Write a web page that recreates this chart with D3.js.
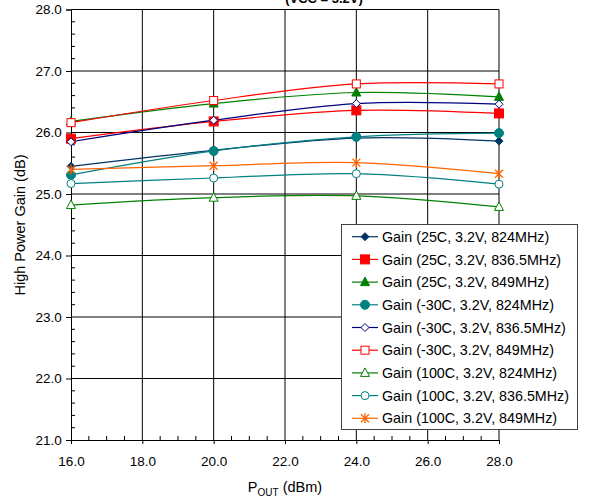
<!DOCTYPE html>
<html lang="en">
<head>
<meta charset="UTF-8">
<title>High Power Gain</title>
<style>
  body { margin: 0; background: #fff; }
  svg { font-family: "Liberation Sans", Arial, sans-serif; }
  .linea { fill: none; stroke-width: 1.2px; }
</style>
<script src="https://d3js.org/d3.v7.min.js"></script>
</head>
<body>
<script>
// Datos: potencia de salida (dBm) y ganancia de cada serie
var pout = [16, 20, 24, 28];
var xTicks = [16, 18, 20, 22, 24, 26, 28];
var yTicks = [21, 22, 23, 24, 25, 26, 27, 28];

var nombres = [
  "Gain (25C, 3.2V, 824MHz)",
  "Gain (25C, 3.2V, 836.5MHz)",
  "Gain (25C, 3.2V, 849MHz)",
  "Gain (-30C, 3.2V, 824MHz)",
  "Gain (-30C, 3.2V, 836.5MHz)",
  "Gain (-30C, 3.2V, 849MHz)",
  "Gain (100C, 3.2V, 824MHz)",
  "Gain (100C, 3.2V, 836.5MHz)",
  "Gain (100C, 3.2V, 849MHz)"
];
var g25_824   = [25.45, 25.71, 25.91, 25.86];
var g25_836   = [25.90, 26.18, 26.36, 26.31];
var g25_849   = [26.18, 26.47, 26.65, 26.58];
var gm30_824  = [25.31, 25.70, 25.93, 25.99];
var gm30_836  = [25.85, 26.20, 26.47, 26.46];
var gm30_849  = [26.16, 26.52, 26.79, 26.79];
var g100_824  = [24.82, 24.94, 24.97, 24.79];
var g100_836  = [25.17, 25.26, 25.33, 25.16];
var g100_849  = [25.40, 25.46, 25.51, 25.33];

var valores = [g25_824, g25_836, g25_849, gm30_824, gm30_836, gm30_849, g100_824, g100_836, g100_849];
var colores = ["#003366", "#ff0000", "#008000", "#008080", "#000080", "#ff0000", "#008000", "#008080", "#ff6600"];
var marcas  = ["diamante", "cuadrado", "triangulo", "circulo", "diamante", "cuadrado", "triangulo", "circulo", "asterisco"];
var relleno = [true, true, true, true, false, false, false, false, false];

var ancho = 613, alto = 499;
var izq = 71, dch = 499, sup = 9.5, inf = 440;

var svg = d3.select("body").append("svg")
  .attr("width", ancho).attr("height", alto);

var x = d3.scaleLinear().domain([16, 28]).range([izq, dch]);
var y = d3.scaleLinear().domain([21, 28]).range([inf, sup]);

// Titulo (cortado arriba, como en el original)
svg.append("text")
  .attr("x", 324).attr("y", 3)
  .attr("text-anchor", "middle")
  .style("font-size", "13px").style("font-weight", "bold")
  .text("(VCC = 3.2V)");

// Rejilla
svg.append("g").selectAll("line").data(yTicks.slice(1)).join("line")
  .attr("x1", izq).attr("x2", dch)
  .attr("y1", d => y(d)).attr("y2", d => y(d))
  .attr("stroke", "#000").attr("stroke-width", 1);
svg.append("g").selectAll("line").data(xTicks.slice(1)).join("line")
  .attr("y1", sup).attr("y2", inf)
  .attr("x1", d => x(d)).attr("x2", d => x(d))
  .attr("stroke", "#000").attr("stroke-width", 1);

// Ejes
var ejeX = svg.append("g").attr("transform", "translate(0," + inf + ")")
  .call(d3.axisBottom(x).tickValues(xTicks).tickSize(4).tickFormat(d3.format(".1f")));
var ejeY = svg.append("g").attr("transform", "translate(" + izq + ",0)")
  .call(d3.axisLeft(y).tickValues(yTicks).tickSize(5).tickFormat(d3.format(".1f")));
[ejeX, ejeY].forEach(function (e) {
  e.select(".domain").attr("stroke", "#000");
  e.selectAll("text").style("font-size", "13.5px").attr("fill", "#000")
    .style("font-family", "'Liberation Sans', Arial, sans-serif");
});
ejeX.selectAll("text").attr("y", 16);
ejeY.selectAll("text").attr("dx", "-0.1em");

// Marcas menores (hacia dentro)
var menX = d3.range(16, 28.01, 0.5).filter(v => Math.abs(v % 2) > 0.01);
var menY = d3.range(21, 28.01, 0.2).filter(v => Math.abs(v - Math.round(v)) > 0.01);
svg.append("g").selectAll("line").data(menX).join("line")
  .attr("x1", d => x(d)).attr("x2", d => x(d))
  .attr("y1", inf).attr("y2", inf - 4).attr("stroke", "#000");
svg.append("g").selectAll("line").data(menY).join("line")
  .attr("y1", d => y(d)).attr("y2", d => y(d))
  .attr("x1", izq).attr("x2", izq + 4).attr("stroke", "#000");

// Titulos de ejes
var tx = svg.append("text").attr("x", 285).attr("y", 492)
  .attr("text-anchor", "middle").style("font-size", "14.5px");
tx.append("tspan").text("P");
tx.append("tspan").attr("dy", 4).style("font-size", "10px").text("OUT");
tx.append("tspan").attr("dy", -4).text(" (dBm)");

svg.append("text")
  .attr("transform", "translate(25,225) rotate(-90)")
  .attr("text-anchor", "middle").style("font-size", "14.5px")
  .text("High Power Gain (dB)");

// Dibujar una marca
function marca(g, tipo, color, lleno) {
  var f = lleno ? color : "#fff";
  if (tipo === "diamante") {
    g.append("path").attr("d", "M0,-4L4,0L0,4L-4,0Z")
      .attr("fill", f).attr("stroke", color);
  } else if (tipo === "cuadrado") {
    var s = lleno ? 4.5 : 4;
    g.append("rect").attr("x", -s).attr("y", -s).attr("width", 2 * s).attr("height", 2 * s)
      .attr("fill", f).attr("stroke", color);
  } else if (tipo === "triangulo") {
    g.append("path").attr("d", "M0,-5L4.5,3.5L-4.5,3.5Z")
      .attr("fill", f).attr("stroke", color);
  } else if (tipo === "circulo") {
    g.append("circle").attr("r", lleno ? 4.5 : 4)
      .attr("fill", f).attr("stroke", color);
  } else {
    g.append("path").attr("d", "M-4,-4L4,4M-4,4L4,-4M0,-5L0,5")
      .attr("fill", "none").attr("stroke", color).attr("stroke-width", 1.3);
  }
}

// Series
var linea = d3.line()
  .x(function (d, i) { return x(pout[i]); })
  .y(function (d) { return y(d); })
  .curve(d3.curveCatmullRom.alpha(0));

valores.forEach(function (serie, k) {
  svg.append("path").datum(serie).attr("class", "linea")
    .attr("stroke", colores[k]).attr("d", linea);
});
valores.forEach(function (serie, k) {
  serie.forEach(function (v, i) {
    var g = svg.append("g").attr("transform", "translate(" + x(pout[i]) + "," + y(v) + ")");
    marca(g, marcas[k], colores[k], relleno[k]);
  });
});

// Leyenda
var ley = svg.append("g");
ley.append("rect").attr("x", 341.5).attr("y", 224.5).attr("width", 236).attr("height", 205)
  .attr("fill", "#fff").attr("stroke", "#444");
nombres.forEach(function (n, k) {
  var yy = 236.7 + k * 22.7;
  ley.append("line").attr("x1", 352).attr("x2", 378).attr("y1", yy).attr("y2", yy)
    .attr("stroke", colores[k]).attr("stroke-width", 1.2);
  marca(ley.append("g").attr("transform", "translate(365," + yy + ")"), marcas[k], colores[k], relleno[k]);
  ley.append("text").attr("x", 382).attr("y", yy).attr("dy", "0.36em")
    .style("font-size", "14.3px").text(n);
});
</script>
</body>
</html>
